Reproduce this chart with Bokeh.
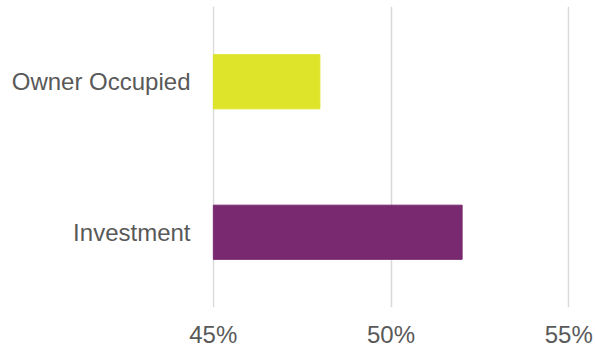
from bokeh.plotting import figure
from bokeh.models import FactorRange, Range1d, FixedTicker, PrintfTickFormatter, ColumnDataSource
from bokeh.embed import file_html
from bokeh.resources import INLINE

categories = ["Investment", "Owner Occupied"]
values = [52, 48]
colors = ["#78296F", "#DEE42A"]
tick_values = [45, 50, 55]
axis_min = 45
axis_max = 55

src = ColumnDataSource(dict(cat=categories, val=values, base=[axis_min] * len(values), color=colors))

p = figure(width=595, height=351, output_backend="svg", toolbar_location=None,
           y_range=FactorRange(factors=categories), x_range=Range1d(axis_min - 0.02, axis_max + 0.02),
           min_border_left=212, min_border_right=26, min_border_top=6, min_border_bottom=44)
p.hbar(y="cat", left="base", right="val", height=0.36, color="color", source=src)

p.outline_line_color = None
p.background_fill_color = "white"
p.border_fill_color = "white"
p.ygrid.grid_line_color = None
p.xgrid.grid_line_color = "#D9D9D9"
p.xgrid.grid_line_width = 1.5
p.xaxis.ticker = FixedTicker(ticks=tick_values)
p.xaxis.formatter = PrintfTickFormatter(format="%d%%")
for ax in (p.xaxis, p.yaxis):
    ax.axis_line_color = None
    ax.major_tick_line_color = None
    ax.minor_tick_line_color = None
    ax.major_tick_in = 0
    ax.major_tick_out = 0
    ax.minor_tick_in = 0
    ax.minor_tick_out = 0
    ax.major_label_text_font = "Liberation Sans"
    ax.major_label_text_font_size = "24px"
    ax.major_label_text_color = "#595959"
p.xaxis.major_label_standoff = 13
p.yaxis.major_label_standoff = 22

open("out.html", "w").write(file_html(p, INLINE))
